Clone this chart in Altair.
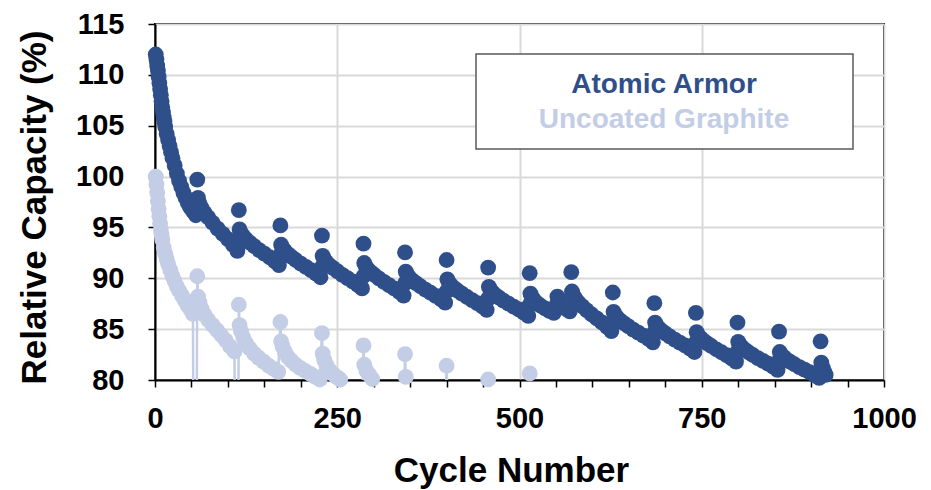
import altair as alt
import pandas as pd

series_names = ["Atomic Armor", "Uncoated Graphite"]
series_colors = ["#2F4F8A", "#C3CDE6"]

x_ticks = list(range(0, 1001, 50))
y_ticks = list(range(80, 116, 5))

# ---- Atomic Armor: regular cycling points ----
dark_cycles = [
    1, 2, 3, 4, 5, 6, 7, 8, 9, 10, 11, 12, 13, 14, 16, 18, 20, 22, 24, 27, 30, 33, 36, 39, 42, 45, 48, 52, 56,
    59, 61, 64, 68, 73, 79, 86, 93, 100, 107, 113,
    116, 118, 121, 125, 130, 136, 143, 150, 157, 164, 170,
    173, 175, 178, 182, 187, 193, 200, 207, 214, 221, 227,
    230, 232, 235, 239, 244, 250, 257, 264, 271, 278, 284,
    287, 289, 292, 296, 301, 307, 314, 321, 328, 335, 341,
    344, 346, 349, 353, 358, 364, 371, 378, 385, 392, 398,
    401, 403, 406, 410, 415, 421, 428, 435, 442, 449, 455,
    458, 460, 463, 467, 472, 478, 485, 492, 499, 506, 512,
    515, 517, 520, 524, 529, 535, 541, 547, 550, 552, 554, 557, 561, 565, 569,
    572, 574, 577, 581, 586, 592, 599, 606, 613, 620, 626,
    629, 631, 634, 638, 643, 649, 656, 663, 670, 677, 683,
    686, 688, 691, 695, 700, 706, 713, 720, 727, 734, 740,
    743, 745, 748, 752, 757, 763, 770, 777, 784, 791, 797,
    800, 802, 805, 809, 814, 820, 827, 834, 841, 848, 854,
    857, 859, 862, 866, 871, 877, 884, 891, 898, 905, 911,
    914, 916, 918, 920,
]
dark_values = [
    112.0, 111.5, 110.9, 110.4, 109.8, 109.2, 108.6, 108.0, 107.4, 106.8, 106.3, 105.8, 105.4, 104.9,
    104.2, 103.6, 103.0, 102.4, 101.8, 101.1, 100.3, 99.6, 99.0, 98.4, 97.9, 97.4, 97.0, 96.6, 96.2,
    97.9, 97.38, 96.91, 96.44, 95.98, 95.46, 94.88, 94.36, 93.84, 93.27, 92.7,
    94.8, 94.45, 94.14, 93.82, 93.51, 93.16, 92.77, 92.42, 92.07, 91.69, 91.3,
    93.3, 92.98, 92.69, 92.4, 92.12, 91.8, 91.44, 91.12, 90.8, 90.45, 90.1,
    92.2, 91.88, 91.59, 91.3, 91.02, 90.7, 90.34, 90.02, 89.7, 89.35, 89.0,
    91.5, 91.18, 90.89, 90.6, 90.32, 90.0, 89.64, 89.32, 89.0, 88.65, 88.3,
    90.65, 90.35, 90.07, 89.8, 89.52, 89.22, 88.88, 88.58, 88.27, 87.94, 87.6,
    89.9, 89.6, 89.33, 89.06, 88.79, 88.49, 88.16, 87.86, 87.56, 87.23, 86.9,
    89.15, 88.87, 88.61, 88.35, 88.1, 87.81, 87.5, 87.21, 86.93, 86.61, 86.3,
    88.5, 88.15, 87.85, 87.55, 87.3, 87.05, 86.8, 86.6, 87.3, 88.2, 87.8, 87.45, 87.2, 86.95, 86.75,
    88.7, 88.31, 87.96, 87.61, 87.26, 86.87, 86.44, 86.05, 85.66, 85.23, 84.8,
    86.7, 86.4, 86.13, 85.86, 85.59, 85.29, 84.96, 84.66, 84.36, 84.03, 83.7,
    85.65, 85.36, 85.1, 84.84, 84.58, 84.29, 83.97, 83.68, 83.39, 83.07, 82.75,
    84.7, 84.41, 84.15, 83.89, 83.63, 83.34, 83.02, 82.73, 82.44, 82.12, 81.8,
    83.75, 83.48, 83.23, 82.98, 82.73, 82.46, 82.15, 81.88, 81.6, 81.3, 81.0,
    82.75, 82.5, 82.27, 82.04, 81.81, 81.55, 81.27, 81.02, 80.76, 80.48, 80.2,
    81.7, 81.2, 80.8, 80.5,
]

# ---- Atomic Armor: checkpoint (RPT) points ----
dark_rpt_cycles = [58, 115, 172, 229, 286, 343, 400, 457, 514, 571, 628, 685, 742, 799, 856, 913]
dark_rpt_top = [99.7, 96.7, 95.2, 94.2, 93.4, 92.55, 91.8, 91.05, 90.5, 90.6, 88.6, 87.55, 86.6, 85.65, 84.75, 83.8]
dark_rpt_mid = [97.0, 93.7, 92.3, 91.1, 90.2, 89.5, 88.7, 88.0, 87.4, 87.7, 85.7, 84.7, 83.7, 82.8, 81.9, 80.9]

# ---- Uncoated Graphite (in measurement order; values under 80 lie below the axis) ----
light_cycles = [
    1, 2, 3, 4, 5, 6, 7, 8, 9, 10, 12, 14, 16, 18, 21, 24, 27, 30, 33, 37, 41, 45, 49, 52,
    55, 58, 59,
    61, 64, 68, 73, 79, 85, 91, 97, 103, 109,
    112, 115, 116,
    118, 121, 125, 130, 136, 142, 149, 156, 163, 169,
    172, 173,
    175, 178, 182, 187, 193, 199, 206, 213, 220, 226,
    229, 230,
    232, 235, 239, 244, 249, 254,
    258, 284, 286, 287,
    290, 294, 298,
    302, 341, 343, 344,
    347, 398, 400, 401,
    455, 457,
    459, 512, 514,
    516,
]
light_values = [
    100.0, 99.2, 98.4, 97.6, 96.8, 96.1, 95.4, 94.8, 94.3, 93.8, 93.0, 92.4, 91.9, 91.4, 90.8, 90.2,
    89.7, 89.2, 88.8, 88.3, 87.8, 87.3, 86.9, 86.5,
    40.0, 90.2, 88.2,
    87.6, 87.0, 86.4, 85.9, 85.4, 84.9, 84.4, 83.9, 83.3, 82.8,
    40.0, 87.4, 85.4,
    84.8, 84.2, 83.6, 83.1, 82.6, 82.2, 81.8, 81.4, 81.1, 80.8,
    85.7, 83.8,
    83.3, 82.8, 82.3, 81.9, 81.5, 81.2, 80.9, 80.6, 80.3, 80.05,
    84.6, 82.6,
    82.0, 81.5, 81.0, 80.6, 80.3, 80.05,
    78.0, 76.0, 83.4, 81.5,
    80.9, 80.5, 80.1,
    78.0, 76.0, 82.55, 80.3,
    77.0, 76.0, 81.4, 79.0,
    76.0, 80.05,
    77.0, 76.0, 80.65,
    77.0,
]

dark_df = pd.DataFrame({
    "cycle": dark_cycles + dark_rpt_cycles + dark_rpt_cycles,
    "capacity": dark_values + dark_rpt_top + dark_rpt_mid,
})
light_df = pd.DataFrame({
    "cycle": light_cycles,
    "capacity": light_values,
    "order": list(range(len(light_cycles))),
})

FONT = "Liberation Sans"
DARK, LIGHT = series_colors
DOT = 250

x_scale = alt.Scale(domain=[0, 1000], nice=False, zero=False)
y_scale = alt.Scale(domain=[80, 115], nice=False, zero=False)

x_axis = alt.Axis(
    values=x_ticks,
    format="d",
    labelExpr="datum.value % 250 === 0 ? datum.label : ''",
    gridOpacity={"condition": {"test": "datum.value % 250 === 0", "value": 1}, "value": 0},
    labelFlush=False,
    labelOverlap=False,
    labelPadding=17,
    title="Cycle Number",
    titleX=356,
    titleY=101,
    titleAlign="center",
    titleBaseline="alphabetic",
)
y_axis = alt.Axis(
    values=y_ticks,
    format="d",
    labelPadding=24,
    labelOverlap=False,
    title="Relative Capacity (%)",
    titleX=-110,
    titleY=183,
    titleAngle=270,
    titleAlign="center",
    titleBaseline="alphabetic",
)

X = alt.X("cycle:Q", scale=x_scale, axis=x_axis)
Y = alt.Y("capacity:Q", scale=y_scale, axis=y_axis)

light_line = alt.Chart(light_df).mark_line(color=LIGHT, strokeWidth=2.5, clip=True).encode(
    x=X, y=Y, order=alt.Order("order:Q")
)
light_pts = alt.Chart(light_df).transform_filter("datum.capacity >= 80").mark_circle(
    color=LIGHT, size=DOT, opacity=1
).encode(x=X, y=Y)
dark_pts = alt.Chart(dark_df).mark_circle(color=DARK, size=DOT, opacity=1).encode(x=X, y=Y)

legend_box = alt.Chart(pd.DataFrame({"k": [0]})).mark_rect(
    fill="white", stroke="#595959", strokeWidth=1.5
).encode(x=alt.value(321), x2=alt.value(698), y=alt.value(30), y2=alt.value(125))

legend_a = alt.Chart(pd.DataFrame({"name": [series_names[0]]})).mark_text(
    font=FONT, fontWeight="bold", fontSize=28, color=DARK, align="center", baseline="alphabetic"
).encode(text="name:N", x=alt.value(509), y=alt.value(69))
legend_b = alt.Chart(pd.DataFrame({"name": [series_names[1]]})).mark_text(
    font=FONT, fontWeight="bold", fontSize=28, color=LIGHT, align="center", baseline="alphabetic"
).encode(text="name:N", x=alt.value(509), y=alt.value(104))

chart = alt.layer(light_line, light_pts, dark_pts, legend_box, legend_a, legend_b).properties(
    width=729,
    height=356,
    autosize=alt.AutoSizeParams(type="none"),
    padding={"left": 155, "top": 24, "right": 47, "bottom": 110},
    background="white",
).configure_view(
    stroke="black", strokeWidth=2
).configure_axis(
    labelFont=FONT,
    labelFontSize=29,
    labelFontWeight="bold",
    labelColor="black",
    titleFont=FONT,
    titleFontSize=35,
    titleFontWeight="bold",
    titleColor="black",
    domainColor="black",
    domainWidth=2,
    tickColor="black",
    tickWidth=1.5,
    tickSize=7,
    gridColor="#D9D9D9",
    gridWidth=2,
)

chart.save("out.html", embed_options={"renderer": "svg", "actions": False})
